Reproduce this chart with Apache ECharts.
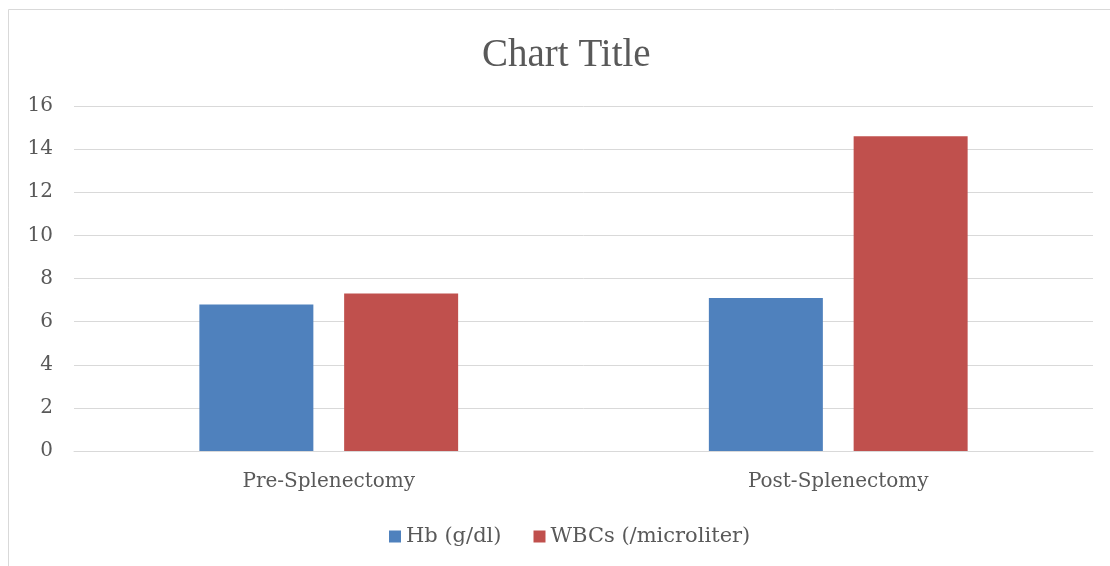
<!DOCTYPE html>
<html>
<head>
<meta charset="utf-8">
<script src="https://cdn.jsdelivr.net/npm/echarts@6/dist/echarts.min.js"></script>
<style>html,body{margin:0;padding:0;background:#fff;}#c{width:1110px;height:566px;}</style>
</head>
<body>
<div id="c"></div>
<script>
const categories = ['Pre-Splenectomy', 'Post-Splenectomy'];
const seriesNames = ['Hb (g/dl)', 'WBCs (/microliter)'];
const hbValues = [6.8, 7.1];
const wbcValues = [7.3, 14.6];
const yTicks = [0, 2, 4, 6, 8, 10, 12, 14, 16];

const TFONT = '"Liberation Serif", serif';
const FONT = '"DejaVu Serif", serif';
const TXT = '#595959';
const chart = echarts.init(document.getElementById('c'), null, {renderer: 'canvas'});
chart.setOption({
  animation: false,
  backgroundColor: '#fff',
  title: {
    text: 'Chart Title',
    left: 477,
    top: 31,
    textStyle: {fontFamily: TFONT, fontSize: 39, fontWeight: 'normal', color: TXT}
  },
  graphic: [{
    type: 'polyline',
    shape: {points: [[8.5, 566], [8.5, 9.5], [1110, 9.5]]},
    style: {stroke: '#d9d9d9', lineWidth: 1, fill: null},
    silent: true
  }],
  legend: {
    bottom: 14,
    left: 384,
    itemWidth: 12,
    itemHeight: 12,
    itemGap: 32,
    icon: 'rect',
    textStyle: {fontFamily: FONT, fontSize: 21, color: TXT},
    data: seriesNames
  },
  grid: {left: 74, right: 17, top: 106, bottom: 115, containLabel: false},
  xAxis: {
    type: 'category',
    data: categories,
    axisTick: {show: false},
    axisLine: {show: true, lineStyle: {color: '#d9d9d9', width: 1}},
    axisLabel: {fontFamily: FONT, fontSize: 20, color: TXT, margin: 21}
  },
  yAxis: {
    type: 'value',
    min: yTicks[0],
    max: yTicks[yTicks.length - 1],
    interval: 2,
    axisLine: {show: false},
    axisTick: {show: false},
    splitLine: {lineStyle: {color: '#d9d9d9', width: 1}},
    axisLabel: {fontFamily: FONT, fontSize: 20, color: TXT, margin: 21}
  },
  series: [
    {name: seriesNames[0], type: 'bar', data: hbValues, barWidth: 114, barGap: '27%', itemStyle: {color: '#4F81BD'}},
    {name: seriesNames[1], type: 'bar', data: wbcValues, barWidth: 114, barGap: '27%', itemStyle: {color: '#C0504D'}}
  ]
});
</script>
</body>
</html>
